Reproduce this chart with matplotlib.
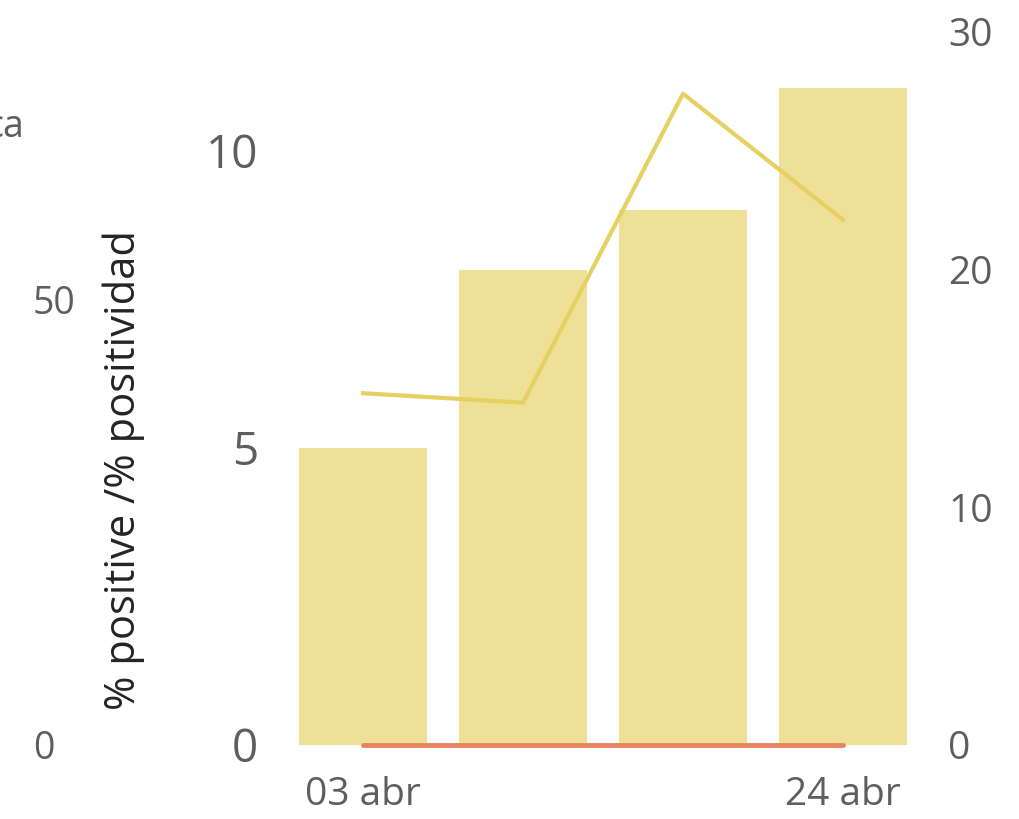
import matplotlib.pyplot as plt
import numpy as np

# data
fechas = ["03 abr", "10 abr", "17 abr", "24 abr"]
tick_labels = ["03 abr", "", "", "24 abr"]
pct_positive = [5.0, 8.0, 9.0, 11.05]      # bars, middle axis
positividad = [14.8, 14.4, 27.4, 22.1]     # line, right axis
zero_series = [0, 0, 0, 0]                 # orange line, left axis

plt.rcParams['font.family'] = ['Open Sans', 'DejaVu Sans']
grey = '#605E5C'

fig = plt.figure(figsize=(10.19, 8.19), dpi=100)
ax = fig.add_axes([0.2777, 0.0904, 0.6281, 0.8706])
x = np.arange(len(fechas))

ax.bar(x, pct_positive, width=0.8, color='#EFE097', zorder=1)
ax.set_xlim(-0.5, 3.5)
ax.set_ylim(0, 12)
ax.set_yticks([0, 5, 10])
ax.tick_params(axis='y', length=0, pad=18, labelsize=33, labelcolor=grey)
ax.set_xticks(x)
ax.set_xticklabels(tick_labels)
ax.tick_params(axis='x', length=0, pad=22, labelsize=28, labelcolor=grey)
ax.set_ylabel('% positive /% positividad', fontsize=30, color='#252423')
ax.yaxis.set_label_coords(-0.216, 0.386)
for s in ax.spines.values():
    s.set_visible(False)

# right axis for the line
ax2 = ax.twinx()
ax2.plot(x, positividad, color='#E6D061', linewidth=3, zorder=3)
ax2.set_ylim(0, 30)
ax2.set_yticks([0, 10, 20, 30])
ax2.tick_params(axis='y', length=0, pad=18, labelsize=28, labelcolor=grey)
for s in ax2.spines.values():
    s.set_visible(False)

# far left axis
ax3 = ax.twinx()
ax3.plot(x, zero_series, color='#E8845C', linewidth=3.5, solid_capstyle='round', clip_on=False, zorder=4)
ax3.set_ylim(0, 80)
ax3.set_yticks([0, 50])
ax3.yaxis.set_ticks_position('left')
ax3.tick_params(axis='y', length=0, pad=180, labelsize=27, labelcolor=grey)
for lbl in ax3.get_yticklabels():
    lbl.set_horizontalalignment('left')
for s in ax3.spines.values():
    s.set_visible(False)

fig.text(0.024, 0.845, 'ca', fontsize=27, color=grey, ha='right', va='center')

fig.savefig('out.png', dpi=100)
